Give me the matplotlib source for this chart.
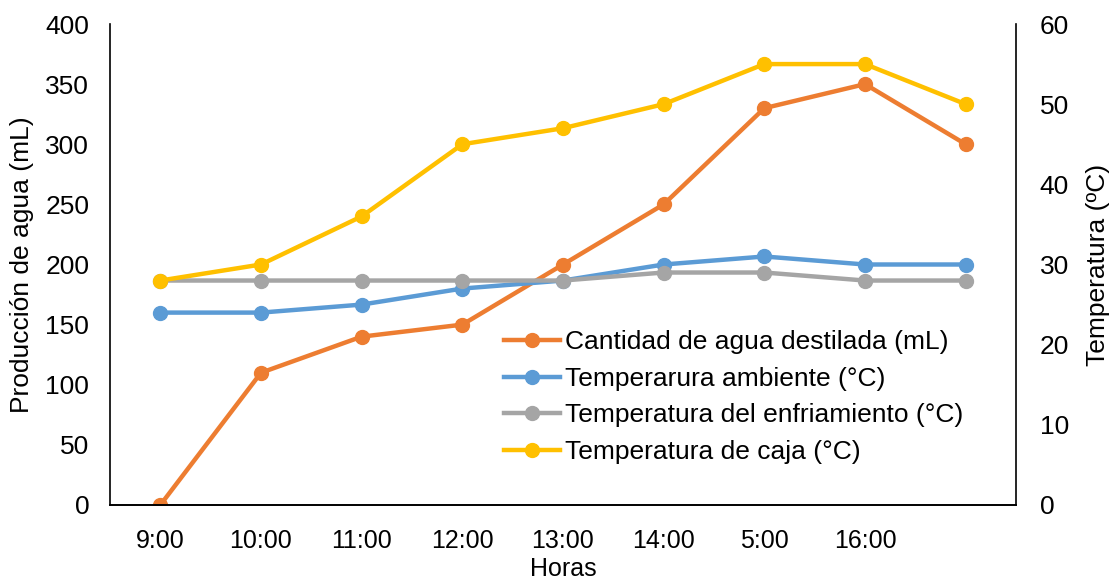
import matplotlib
matplotlib.use("Agg")
import matplotlib.pyplot as plt

plt.rcParams['font.family'] = ['Liberation Sans', 'DejaVu Sans']

horas = ["9:00", "10:00", "11:00", "12:00", "13:00", "14:00", "5:00", "16:00", ""]
agua_ml = [0, 110, 140, 150, 200, 250, 330, 350, 300]
temp_ambiente = [24, 24, 25, 27, 28, 30, 31, 30, 30]
temp_enfriamiento = [28, 28, 28, 28, 28, 29, 29, 28, 28]
temp_caja = [28, 30, 36, 45, 47, 50, 55, 55, 50]

fig = plt.figure(figsize=(11.16, 5.8), dpi=100)
ax = fig.add_axes([110 / 1116, 1 - 505 / 580, (1016 - 110) / 1116, (505 - 24) / 580])
ax2 = ax.twinx()

x = list(range(len(horas)))
kw = dict(linewidth=3.2, marker="o", markersize=10)
l1, = ax.plot(x, agua_ml, color="#ED7D31", label="Cantidad de agua destilada (mL)", **kw)
l2, = ax2.plot(x, temp_ambiente, color="#5B9BD5", label="Temperarura ambiente (°C)", **kw)
l3, = ax2.plot(x, temp_enfriamiento, color="#A5A5A5", label="Temperatura del enfriamiento (°C)", **kw)
l4, = ax2.plot(x, temp_caja, color="#FFC000", label="Temperatura de caja (°C)", **kw)

ax.set_xlim(-0.5, len(horas) - 0.5)
ax.set_ylim(0, 400)
ax2.set_ylim(0, 60)
ax.set_xticks(x)
ax.set_xticklabels(horas)
ax.set_yticks(range(0, 401, 50))
ax2.set_yticks(range(0, 61, 10))

for a in (ax, ax2):
    a.spines["top"].set_visible(False)
    a.tick_params(length=0, labelsize=19)
    for s in ("left", "right", "bottom"):
        a.spines[s].set_linewidth(1.2)
ax.spines["right"].set_visible(False)
ax2.spines["left"].set_visible(False)
ax.tick_params(axis="x", labelsize=18, pad=17)
ax.tick_params(axis="y", pad=15)
ax2.tick_params(axis="y", pad=17)

ax.set_xlabel("Horas", fontsize=18, labelpad=3)
ax.set_ylabel("Producción de agua (mL)", fontsize=19, labelpad=8)
ax2.set_ylabel("Temperatura (ºC)", fontsize=19, labelpad=12)

ax2.legend(handles=[l1, l2, l3, l4], loc="lower left", bbox_to_anchor=(0.435, 0.085),
           frameon=False, fontsize=19, handlelength=2.1, handletextpad=0.2,
           labelspacing=0.48, borderpad=0, borderaxespad=0)

fig.savefig("out.png", dpi=100)
